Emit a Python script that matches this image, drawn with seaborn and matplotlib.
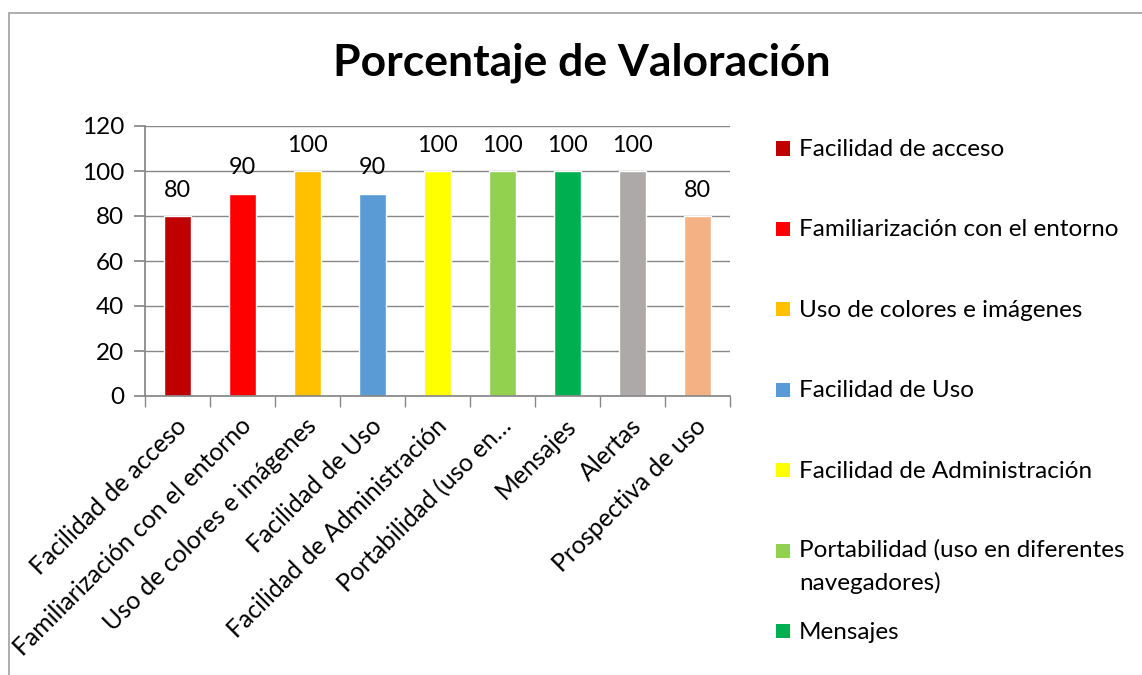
import matplotlib
matplotlib.use("Agg")
import matplotlib.pyplot as plt
import seaborn as sns
import pandas as pd
from matplotlib.patches import Rectangle, Patch
from matplotlib.legend_handler import HandlerPatch
from matplotlib.transforms import ScaledTranslation

categorias = ["Facilidad de acceso", "Familiarización con el entorno",
              "Uso de colores e imágenes", "Facilidad de Uso",
              "Facilidad de Administración",
              "Portabilidad (uso en diferentes navegadores)",
              "Mensajes", "Alertas", "Prospectiva de uso"]
etiquetas_x = ["Facilidad de acceso", "Familiarización con el entorno",
               "Uso de colores e imágenes", "Facilidad de Uso",
               "Facilidad de Administración", "Portabilidad (uso en…",
               "Mensajes", "Alertas", "Prospectiva de uso"]
# the legend of the reference is cut by the chart frame after 7 entries
etiquetas_leyenda = ["Facilidad de acceso", "Familiarización con el entorno",
                     "Uso de colores e imágenes", "Facilidad de Uso",
                     "Facilidad de Administración",
                     "Portabilidad (uso en diferentes\nnavegadores)",
                     "Mensajes"]
valores = [80, 90, 100, 90, 100, 100, 100, 100, 80]
colores = ["#C00000", "#FF0000", "#FFC000", "#5B9BD5", "#FFFF00",
           "#92D050", "#00B050", "#ADA9A9", "#F4B183"]
yticks = [0, 20, 40, 60, 80, 100, 120]

sns.set_theme(style="white")
plt.rcParams["font.family"] = ["Lato", "DejaVu Sans"]
plt.rcParams["text.color"] = "black"
plt.rcParams["xtick.color"] = "black"
plt.rcParams["ytick.color"] = "black"
plt.rcParams["xtick.labelcolor"] = "black"
plt.rcParams["ytick.labelcolor"] = "black"

GRIS = "#878787"
df = pd.DataFrame({"cat": categorias, "val": valores})

fig = plt.figure(figsize=(11.42, 6.75), dpi=100)
ax = fig.add_axes([145/1142, 1-396/675, (730-145)/1142, (396-126)/675])

sns.barplot(data=df, x="cat", y="val", hue="cat", palette=colores,
            order=categorias, hue_order=categorias, width=0.42,
            legend=False, ax=ax, saturation=1)

ax.set_ylim(0, 120)
ax.set_xlim(-0.5, len(categorias) - 0.5)
ax.set_yticks(yticks)
ax.set_yticklabels([str(v) for v in yticks], fontsize=17.5)
ax.yaxis.grid(True, color=GRIS, linewidth=1.0)
ax.set_axisbelow(True)
for s in ["top", "right"]:
    ax.spines[s].set_visible(False)
ax.spines["left"].set_color(GRIS)
ax.spines["bottom"].set_color(GRIS)
ax.tick_params(axis="y", which="major", length=8, color=GRIS,
               direction="out", left=True, pad=7)

ax.set_xticks(range(len(categorias)))
ax.set_xticklabels(etiquetas_x, rotation=45, ha="right",
                   rotation_mode="anchor", fontsize=17.8)
ax.tick_params(axis="x", which="major", length=0, pad=13)
for lab in ax.get_xticklabels():
    lab.set_transform(lab.get_transform() +
                      ScaledTranslation(-3/100, 0, fig.dpi_scale_trans))
ax.set_xticks([i - 0.5 for i in range(len(categorias) + 1)], minor=True)
ax.tick_params(axis="x", which="minor", length=8, color=GRIS,
               direction="out", bottom=True)
ax.set_xlabel("")
ax.set_ylabel("")

for cont in ax.containers:
    ax.bar_label(cont, fmt="%d", padding=11, fontsize=16.8, color="black")

fig.text(582/1142, 1-63/675, "Porcentaje de Valoración", ha="center",
         va="center", fontsize=32, fontweight="bold", color="black")


def cuadro(legend, orig_handle, xdescent, ydescent, width, height, fontsize):
    return Rectangle((0, 0.02 * fontsize), 0.58 * fontsize, 0.58 * fontsize)


handles = [Patch(facecolor=c, edgecolor="none")
           for c in colores[:len(etiquetas_leyenda)]]
FS = 17.5
leg = fig.legend(handles, etiquetas_leyenda, loc="upper left",
                 bbox_to_anchor=(766/1142, 1-103/675), frameon=False,
                 fontsize=FS, handlelength=0.85, handletextpad=0.1,
                 handleheight=4.3, labelspacing=0.27, borderaxespad=0,
                 labelcolor="black",
                 handler_map={Patch: HandlerPatch(patch_func=cuadro)})
for t in leg.get_texts():
    if "\n" in t.get_text():
        t.set_linespacing(1.6)
        t.set_y(-17)

fig.add_artist(Rectangle((9/1142, -0.5), 1.2, 0.5 + (1 - 13/675),
                         transform=fig.transFigure, fill=False,
                         edgecolor="#A0A0A0", linewidth=1.2,
                         clip_on=False))

fig.savefig("out.png", dpi=100)
